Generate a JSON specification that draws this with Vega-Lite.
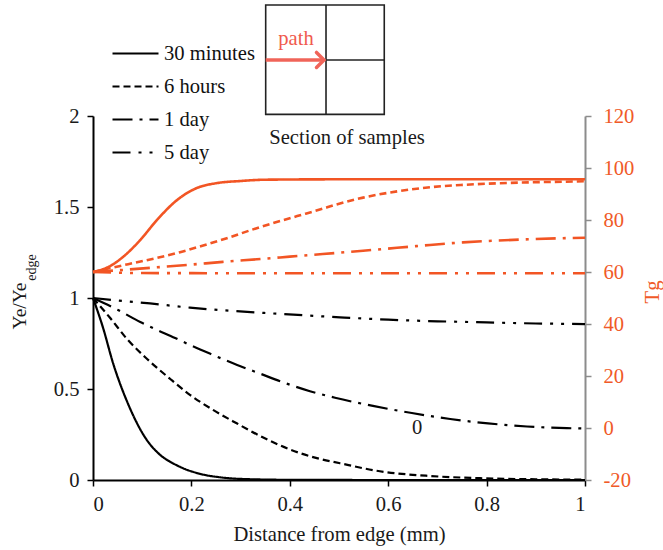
{
  "$schema": "https://vega.github.io/schema/vega-lite/v6.json",
  "width": 492,
  "height": 364,
  "autosize": {"type": "none"},
  "padding": {"left": 93, "top": 116, "right": 78, "bottom": 70},
  "background": "white",
  "config": {
    "view": {"stroke": null},
    "font": "Liberation Serif",
    "axis": {
      "grid": false,
      "labelFont": "Liberation Serif",
      "titleFont": "Liberation Serif",
      "labelFontSize": 20.6,
      "titleFontSize": 20.6,
      "titleFontWeight": "normal",
      "tickSize": 6,
      "domainWidth": 2,
      "tickWidth": 1.5
    },
    "legend": {
      "orient": "none",
      "legendX": 18,
      "legendY": -79,
      "padding": 0,
      "symbolType": "stroke",
      "symbolSize": 2116,
      "symbolStrokeWidth": 2.2,
      "symbolStrokeColor": "black",
      "labelFont": "Liberation Serif",
      "labelFontSize": 20.6,
      "labelColor": "#111111",
      "labelOffset": 4,
      "rowPadding": 0,
      "clipHeight": 33
    }
  },
  "datasets": {
    "black": [
      {"s": "30 minutes", "d": 0, "v": 1},
      {"s": "30 minutes", "d": 0.02, "v": 0.84},
      {"s": "30 minutes", "d": 0.041, "v": 0.64},
      {"s": "30 minutes", "d": 0.071, "v": 0.42},
      {"s": "30 minutes", "d": 0.112, "v": 0.21},
      {"s": "30 minutes", "d": 0.126, "v": 0.165},
      {"s": "30 minutes", "d": 0.14, "v": 0.13},
      {"s": "30 minutes", "d": 0.155, "v": 0.103},
      {"s": "30 minutes", "d": 0.171, "v": 0.08},
      {"s": "30 minutes", "d": 0.187, "v": 0.06},
      {"s": "30 minutes", "d": 0.203, "v": 0.045},
      {"s": "30 minutes", "d": 0.227, "v": 0.028},
      {"s": "30 minutes", "d": 0.252, "v": 0.017},
      {"s": "30 minutes", "d": 0.3, "v": 0.006},
      {"s": "30 minutes", "d": 0.4, "v": 0.001},
      {"s": "30 minutes", "d": 0.6, "v": 0},
      {"s": "30 minutes", "d": 1, "v": 0},
      {"s": "6 hours", "d": 0, "v": 1},
      {"s": "6 hours", "d": 0.035, "v": 0.89},
      {"s": "6 hours", "d": 0.069, "v": 0.775},
      {"s": "6 hours", "d": 0.11, "v": 0.665},
      {"s": "6 hours", "d": 0.157, "v": 0.555},
      {"s": "6 hours", "d": 0.197, "v": 0.468},
      {"s": "6 hours", "d": 0.244, "v": 0.385},
      {"s": "6 hours", "d": 0.293, "v": 0.31},
      {"s": "6 hours", "d": 0.346, "v": 0.233},
      {"s": "6 hours", "d": 0.4, "v": 0.168},
      {"s": "6 hours", "d": 0.455, "v": 0.12},
      {"s": "6 hours", "d": 0.502, "v": 0.092},
      {"s": "6 hours", "d": 0.583, "v": 0.048},
      {"s": "6 hours", "d": 0.685, "v": 0.022},
      {"s": "6 hours", "d": 0.787, "v": 0.01},
      {"s": "6 hours", "d": 0.9, "v": 0.004},
      {"s": "6 hours", "d": 1, "v": 0.002},
      {"s": "1 day", "d": 0, "v": 1},
      {"s": "1 day", "d": 0.051, "v": 0.934},
      {"s": "1 day", "d": 0.096, "v": 0.868},
      {"s": "1 day", "d": 0.122, "v": 0.835},
      {"s": "1 day", "d": 0.167, "v": 0.78},
      {"s": "1 day", "d": 0.197, "v": 0.742},
      {"s": "1 day", "d": 0.244, "v": 0.687},
      {"s": "1 day", "d": 0.293, "v": 0.632},
      {"s": "1 day", "d": 0.34, "v": 0.584},
      {"s": "1 day", "d": 0.386, "v": 0.537},
      {"s": "1 day", "d": 0.441, "v": 0.488},
      {"s": "1 day", "d": 0.492, "v": 0.452},
      {"s": "1 day", "d": 0.569, "v": 0.407},
      {"s": "1 day", "d": 0.648, "v": 0.368},
      {"s": "1 day", "d": 0.726, "v": 0.335},
      {"s": "1 day", "d": 0.803, "v": 0.311},
      {"s": "1 day", "d": 0.882, "v": 0.294},
      {"s": "1 day", "d": 0.963, "v": 0.285},
      {"s": "1 day", "d": 1, "v": 0.283},
      {"s": "5 day", "d": 0, "v": 1},
      {"s": "5 day", "d": 0.059, "v": 0.984},
      {"s": "5 day", "d": 0.116, "v": 0.97},
      {"s": "5 day", "d": 0.197, "v": 0.947},
      {"s": "5 day", "d": 0.278, "v": 0.93},
      {"s": "5 day", "d": 0.36, "v": 0.916},
      {"s": "5 day", "d": 0.441, "v": 0.903},
      {"s": "5 day", "d": 0.502, "v": 0.894},
      {"s": "5 day", "d": 0.6, "v": 0.881},
      {"s": "5 day", "d": 0.7, "v": 0.872},
      {"s": "5 day", "d": 0.8, "v": 0.866},
      {"s": "5 day", "d": 0.9, "v": 0.86},
      {"s": "5 day", "d": 1, "v": 0.857}
    ],
    "orange": [
      {"s": "30 minutes", "d": 0, "t": 60},
      {"s": "30 minutes", "d": 0.035, "t": 62.3},
      {"s": "30 minutes", "d": 0.061, "t": 65.8},
      {"s": "30 minutes", "d": 0.096, "t": 72.3},
      {"s": "30 minutes", "d": 0.13, "t": 80},
      {"s": "30 minutes", "d": 0.171, "t": 87.7},
      {"s": "30 minutes", "d": 0.211, "t": 92.3},
      {"s": "30 minutes", "d": 0.252, "t": 94.2},
      {"s": "30 minutes", "d": 0.3, "t": 95},
      {"s": "30 minutes", "d": 0.35, "t": 95.5},
      {"s": "30 minutes", "d": 0.5, "t": 95.65},
      {"s": "30 minutes", "d": 0.75, "t": 95.65},
      {"s": "30 minutes", "d": 1, "t": 95.65},
      {"s": "6 hours", "d": 0, "t": 60},
      {"s": "6 hours", "d": 0.035, "t": 61.5},
      {"s": "6 hours", "d": 0.081, "t": 63.4},
      {"s": "6 hours", "d": 0.13, "t": 65.4},
      {"s": "6 hours", "d": 0.177, "t": 67.6},
      {"s": "6 hours", "d": 0.224, "t": 70.2},
      {"s": "6 hours", "d": 0.272, "t": 73},
      {"s": "6 hours", "d": 0.319, "t": 76},
      {"s": "6 hours", "d": 0.366, "t": 78.8},
      {"s": "6 hours", "d": 0.415, "t": 81.5},
      {"s": "6 hours", "d": 0.461, "t": 84},
      {"s": "6 hours", "d": 0.495, "t": 86},
      {"s": "6 hours", "d": 0.549, "t": 88.6},
      {"s": "6 hours", "d": 0.618, "t": 91},
      {"s": "6 hours", "d": 0.685, "t": 92.6},
      {"s": "6 hours", "d": 0.752, "t": 93.5},
      {"s": "6 hours", "d": 0.821, "t": 94.1},
      {"s": "6 hours", "d": 0.888, "t": 94.5},
      {"s": "6 hours", "d": 0.955, "t": 94.7},
      {"s": "6 hours", "d": 1, "t": 94.9},
      {"s": "1 day", "d": 0, "t": 60},
      {"s": "1 day", "d": 0.061, "t": 60.8},
      {"s": "1 day", "d": 0.13, "t": 61.8},
      {"s": "1 day", "d": 0.197, "t": 62.8},
      {"s": "1 day", "d": 0.264, "t": 63.9},
      {"s": "1 day", "d": 0.333, "t": 64.9},
      {"s": "1 day", "d": 0.4, "t": 65.9},
      {"s": "1 day", "d": 0.467, "t": 66.9},
      {"s": "1 day", "d": 0.549, "t": 68.2},
      {"s": "1 day", "d": 0.618, "t": 69.3},
      {"s": "1 day", "d": 0.685, "t": 70.4},
      {"s": "1 day", "d": 0.752, "t": 71.4},
      {"s": "1 day", "d": 0.821, "t": 72.1},
      {"s": "1 day", "d": 0.888, "t": 72.6},
      {"s": "1 day", "d": 0.955, "t": 73},
      {"s": "1 day", "d": 1, "t": 73.2},
      {"s": "5 day", "d": 0, "t": 60},
      {"s": "5 day", "d": 0.1, "t": 59.6},
      {"s": "5 day", "d": 0.5, "t": 59.5},
      {"s": "5 day", "d": 1, "t": 59.5}
    ],
    "box": [{"x1": 0.351, "x2": 0.592, "y1": 2.009, "y2": 2.61}],
    "rules": [
      {"x1": 0.4736, "x2": 0.4736, "y1": 2.009, "y2": 2.61},
      {"x1": 0.4736, "x2": 0.592, "y1": 2.308, "y2": 2.308}
    ],
    "arrow": [{"x1": 0.351, "x2": 0.466, "y": 2.308}],
    "head": [{"x": 0.4695, "y": 2.308}],
    "notes": [
      {"x": 0.5163, "y": 1.846, "text": "Section of samples"},
      {"x": 0.659, "y": 0.2527, "text": "0"}
    ],
    "pathnote": [{"x": 0.4126, "y": 2.39, "text": "path"}],
    "sub": [{"x": -0.116, "y": 1.168, "text": "edge"}]
  },
  "layer": [
    {
      "layer": [
        {
          "data": {"name": "black"},
          "mark": {"type": "line", "color": "black", "strokeWidth": 2.2, "interpolate": "monotone"},
          "encoding": {
            "x": {
              "field": "d", "type": "quantitative",
              "scale": {"domain": [0, 1], "nice": false},
              "axis": {
                "values": [0, 0.2, 0.4, 0.6, 0.8, 1],
                "labelExpr": "'' + datum.value",
                "title": "Distance from edge (mm)",
                "titleY": 60, "titleBaseline": "alphabetic",
                "domainColor": "black", "tickColor": "black",
                "labelColor": "#1a1a1a", "titleColor": "#1a1a1a",
                "labelPadding": 8
              }
            },
            "y": {
              "field": "v", "type": "quantitative",
              "scale": {"domain": [0, 2], "nice": false},
              "axis": {
                "values": [0, 0.5, 1, 1.5, 2],
                "labelExpr": "'' + datum.value",
                "title": "Ye/Ye",
                "titleFontSize": 19.5,
                "titleAngle": 270,
                "titleX": -68, "titleY": 189.5,
                "titleAlign": "center", "titleBaseline": "alphabetic",
                "domainColor": "black", "tickColor": "black",
                "labelColor": "#1a1a1a", "titleColor": "#1a1a1a",
                "labelPadding": 8
              }
            },
            "strokeDash": {
              "field": "s", "type": "nominal",
              "scale": {
                "domain": ["30 minutes", "6 hours", "1 day", "5 day"],
                "range": [[1, 0], [7, 4], [20, 7, 3, 7], [18, 8, 3, 8, 3, 8]]
              },
              "legend": {
                "title": null,
                "encode": {"symbols": {"update": {"stroke": {"value": "black"}, "strokeWidth": {"value": 2.2}}}}
              }
            }
          }
        },
        {
          "data": {"name": "box"},
          "mark": {"type": "rect", "fill": null, "fillOpacity": 0, "stroke": "#222222", "strokeWidth": 1.6},
          "encoding": {
            "x": {"field": "x1", "type": "quantitative", "scale": {"domain": [0, 1]}},
            "x2": {"field": "x2"},
            "y": {"field": "y1", "type": "quantitative", "scale": {"domain": [0, 2]}},
            "y2": {"field": "y2"}
          }
        },
        {
          "data": {"name": "rules"},
          "mark": {"type": "rule", "color": "#222222", "strokeWidth": 1.6},
          "encoding": {
            "x": {"field": "x1", "type": "quantitative", "scale": {"domain": [0, 1]}},
            "x2": {"field": "x2"},
            "y": {"field": "y1", "type": "quantitative", "scale": {"domain": [0, 2]}},
            "y2": {"field": "y2"}
          }
        },
        {
          "data": {"name": "arrow"},
          "mark": {"type": "rule", "color": "#f06459", "strokeWidth": 3.5},
          "encoding": {
            "x": {"field": "x1", "type": "quantitative", "scale": {"domain": [0, 1]}},
            "x2": {"field": "x2"},
            "y": {"field": "y", "type": "quantitative", "scale": {"domain": [0, 2]}}
          }
        },
        {
          "data": {"name": "head"},
          "mark": {"type": "point", "shape": "M-1,-1L0,0L-1,1", "filled": false, "stroke": "#f06459", "strokeWidth": 3.5, "strokeCap": "round", "opacity": 1, "size": 225},
          "encoding": {
            "x": {"field": "x", "type": "quantitative", "scale": {"domain": [0, 1]}},
            "y": {"field": "y", "type": "quantitative", "scale": {"domain": [0, 2]}}
          }
        },
        {
          "data": {"name": "notes"},
          "mark": {"type": "text", "font": "Liberation Serif", "fontSize": 20.6, "color": "#1a1a1a", "align": "center", "baseline": "alphabetic"},
          "encoding": {
            "x": {"field": "x", "type": "quantitative", "scale": {"domain": [0, 1]}},
            "y": {"field": "y", "type": "quantitative", "scale": {"domain": [0, 2]}},
            "text": {"field": "text"}
          }
        },
        {
          "data": {"name": "pathnote"},
          "mark": {"type": "text", "font": "Liberation Serif", "fontSize": 20.6, "color": "#f05a4e", "align": "center", "baseline": "alphabetic"},
          "encoding": {
            "x": {"field": "x", "type": "quantitative", "scale": {"domain": [0, 1]}},
            "y": {"field": "y", "type": "quantitative", "scale": {"domain": [0, 2]}},
            "text": {"field": "text"}
          }
        },
        {
          "data": {"name": "sub"},
          "mark": {"type": "text", "font": "Liberation Serif", "fontSize": 14, "color": "#1a1a1a", "align": "center", "baseline": "alphabetic", "angle": 270},
          "encoding": {
            "x": {"field": "x", "type": "quantitative", "scale": {"domain": [0, 1]}},
            "y": {"field": "y", "type": "quantitative", "scale": {"domain": [0, 2]}},
            "text": {"field": "text"}
          }
        }
      ]
    },
    {
      "data": {"name": "orange"},
      "mark": {"type": "line", "color": "#f25524", "strokeWidth": 2.6, "interpolate": "monotone"},
      "encoding": {
        "x": {"field": "d", "type": "quantitative", "scale": {"domain": [0, 1]}},
        "y": {
          "field": "t", "type": "quantitative",
          "scale": {"domain": [-20, 120], "nice": false},
          "axis": {
            "orient": "right",
            "values": [-20, 0, 20, 40, 60, 80, 100, 120],
            "labelExpr": "'' + datum.value",
            "title": "Tg",
            "titleAngle": 270,
            "titleX": 73, "titleY": 175.5,
            "titleAlign": "center", "titleBaseline": "alphabetic",
            "domainColor": "#8c8c8c", "tickColor": "#8c8c8c",
            "labelColor": "#f05a28", "titleColor": "#f05a28",
            "labelPadding": 12
          }
        },
        "strokeDash": {"field": "s", "type": "nominal", "legend": null}
      }
    }
  ],
  "resolve": {"scale": {"y": "independent"}}
}
